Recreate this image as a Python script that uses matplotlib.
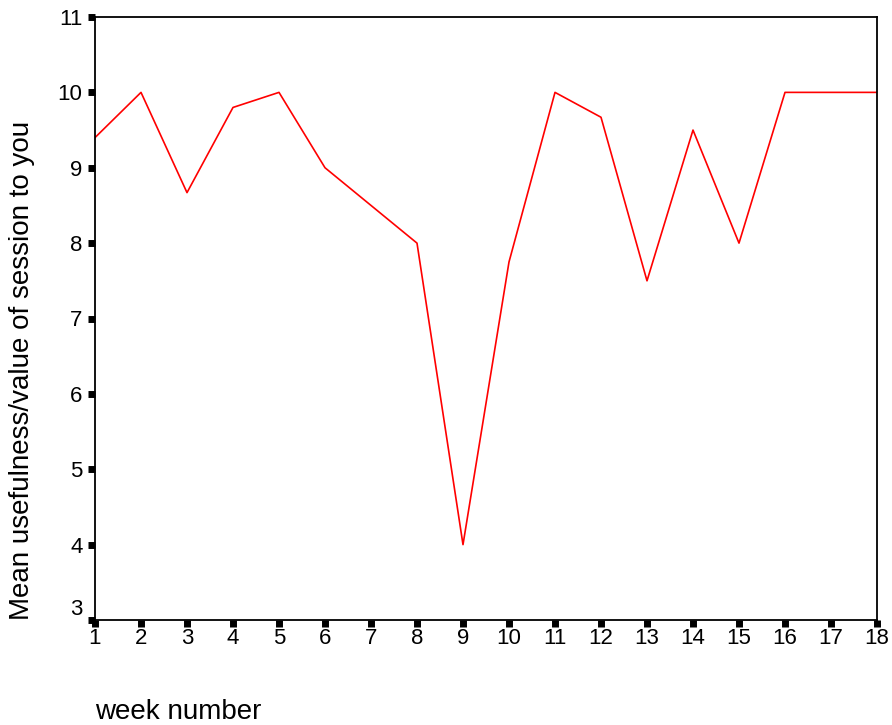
import matplotlib
matplotlib.use("Agg")
import matplotlib.pyplot as plt
import matplotlib.transforms as mtransforms

weeks = list(range(1, 19))
mean_usefulness = [9.4, 10.0, 8.67, 9.8, 10.0, 9.0, 8.5, 8.0, 4.0, 7.75,
                   10.0, 9.67, 7.5, 9.5, 8.0, 10.0, 10.0, 10.0]
y_ticks = [3, 4, 5, 6, 7, 8, 9, 10, 11]

plt.rcParams['font.family'] = ['Liberation Sans', 'DejaVu Sans']

W, H = 892, 725
fig = plt.figure(figsize=(W / 100, H / 100), dpi=100)
ax = fig.add_axes([95 / W, 1 - 620 / H, (877 - 95) / W, (620 - 17) / H])

ax.plot(weeks, mean_usefulness, color='#ff0000', linewidth=1.2)

ax.set_xlim(1, 18)
ax.set_ylim(3, 11)
ax.set_xticks(weeks)
ax.set_yticks(y_ticks)
ax.tick_params(axis='both', direction='out', length=5, width=5,
               color='black', labelsize=16, pad=3)
ax.tick_params(axis='y', pad=4)
ax.tick_params(axis='x', pad=1)

for sp in ax.spines.values():
    sp.set_linewidth(1.3)
    sp.set_color('black')

# SPSS places the lowest y label a bit higher
fig.canvas.draw()
lbl = ax.get_yticklabels()[0]
lbl.set_transform(lbl.get_transform() + mtransforms.ScaledTranslation(0, 13 / 100, fig.dpi_scale_trans))

fig.text(95 / W, 1 - 712 / H, 'week number', ha='left', va='center', fontsize=20)
fig.text(22 / W, 1 - 620 / H, 'Mean usefulness/value of session to you',
         rotation=90, ha='center', va='bottom', fontsize=20)

fig.savefig('out.png', dpi=100)
